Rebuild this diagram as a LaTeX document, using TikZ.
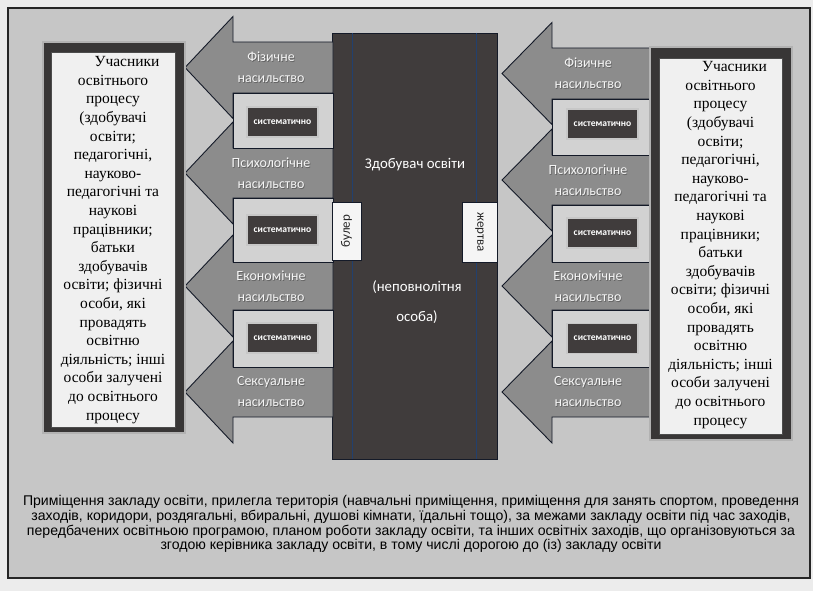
\documentclass[tikz,border=0pt]{standalone}
\usepackage{fontspec}
\setmainfont{Liberation Serif}
\newfontfamily\calfont{Carlito}
\newfontfamily\bodyfont{Liberation Sans}
\definecolor{pagebg}{HTML}{ECECEC}
\definecolor{framebg}{HTML}{C6C6C6}
\definecolor{arrowc}{HTML}{8C8C8C}
\definecolor{darkc}{HTML}{403C3C}
\definecolor{holderc}{HTML}{D2D2D2}
\definecolor{boxlight}{HTML}{F0F0F0}
\definecolor{boxframe}{HTML}{383636}
\definecolor{edgec}{HTML}{141A28}
\definecolor{bluec}{HTML}{22406E}
\begin{document}
\begin{tikzpicture}[x=1pt,y=-1pt,
  arrowshape/.style={fill=arrowc, draw=edgec, line width=0.9pt, line join=miter},
  holderbox/.style={fill=holderc, draw=edgec, line width=0.9pt},
  sysbox/.style={fill=darkc, draw=white!78!black, line width=1.3pt, text=white,
     font=\calfont\bfseries\fontsize{9.6}{10}\selectfont, minimum width=71pt, minimum height=30pt, inner sep=0pt},
  vlbl/.style={text=black!85, font=\calfont\fontsize{13}{15}\selectfont, inner sep=0pt},
  vbox/.style={fill=white!96!black, draw=edgec, line width=0.8pt},
  albl/.style={text=white!96!black, font=\calfont\fontsize{14}{21}\selectfont, align=center, inner sep=0pt},
  ashadow/.style={albl, text=black!75, opacity=0.55},
  ctext/.style={text=white, font=\calfont\fontsize{14.8}{16}\selectfont, inner sep=0pt},
  bigtext/.style={text=black, font=\fontsize{15.5}{18.6}\selectfont, align=center, inner sep=0pt},
  bottomtext/.style={text=black, font=\bodyfont\fontsize{14.1}{14.7}\selectfont, align=center, inner sep=0pt},
  outerbox/.style={fill=boxframe, draw=white!70!black, line width=1.2pt},
  innerbox/.style={fill=boxlight, draw=black!70, line width=0.6pt}
]
% background and frame
\path[use as bounding box, fill=pagebg] (0,0) rectangle (813,591);
\draw[fill=framebg, draw=black!85, line width=1.2pt] (8,8) rectangle (810,578);

% central block
\draw[fill=darkc, draw=edgec, line width=0.9pt] (332,33) rectangle (497,459);
\draw[bluec, line width=0.7pt] (352,33) -- (352,459);
\draw[bluec, line width=0.7pt] (476,33) -- (476,459);

% left arrows: body top / bottom
\foreach \t/\b in {42/93, 148/198, 262/310, 367/417}{
  \pgfmathsetmacro{\c}{(\t+\b)/2}
  \draw[arrowshape] (185,\c) -- (233,\c-51) -- (233,\t) -- (333,\t) -- (333,\b) -- (233,\b) -- (233,\c+51) -- cycle;
}
% right arrows
\foreach \t/\b in {48/99, 155/205, 262/310, 367/417}{
  \pgfmathsetmacro{\c}{(\t+\b)/2}
  \draw[arrowshape] (502,\c) -- (552,\c-51) -- (552,\t) -- (651,\t) -- (651,\b) -- (552,\b) -- (552,\c+51) -- cycle;
}

% holder boxes
\draw[holderbox] (233,93) rectangle (333,148);
\draw[holderbox] (233,198) rectangle (333,262);
\draw[holderbox] (233,310) rectangle (333,367);
\draw[holderbox] (552,99) rectangle (651,155);
\draw[holderbox] (552,205) rectangle (651,262);
\draw[holderbox] (552,310) rectangle (651,367);

% systematic boxes
\node[sysbox] (sl1) at (282.5,122) {систематично};
\node[sysbox] (sl2) at (282.5,230) {систематично};
\node[sysbox] (sl3) at (282.5,338) {систематично};
\node[sysbox] (sr1) at (602.5,124) {систематично};
\node[sysbox] (sr2) at (602.5,233) {систематично};
\node[sysbox] (sr3) at (602.5,338.5) {систематично};

% arrow labels (with soft shadow)
\foreach \n/\x/\y/\w in {al1/271/67.5/Фізичне, al2/271/173/Психологічне, al3/271/286/Економічне, al4/271/392/Сексуальне,
                         ar1/588/73.5/Фізичне, ar2/588/180/Психологічне, ar3/588/286/Економічне, ar4/588/392/Сексуальне}{
  \node[ashadow] (\n s) at (\x+0.8,\y+0.8) {\w\\насильство};
  \node[albl] (\n) at (\x,\y) {\w\\насильство};
}

% vertical labels
\draw[vbox] (332,202) rectangle (361,260);
\node[vlbl, rotate=90] (buler) at (346.5,231) {булер};
\draw[vbox] (462,202) rectangle (497,262);
\node[vlbl, rotate=-90] (zhertva) at (479.5,232) {жертва};

% central text
\node[ctext] (c1) at (415,165) {Здобувач освіти};
\node[ctext] (c2) at (417,287) {(неповнолітня};
\node[ctext] (c3) at (417,317) {особа)};

% text boxes
\draw[outerbox] (43,42) rectangle (185,433);
\draw[innerbox] (51,52) rectangle (175,427);
\draw[outerbox] (650,47) rectangle (792,440);
\draw[innerbox] (659,58) rectangle (782,434);

\node[bigtext] (lt) at (113,240) {\hspace*{28pt}Учасники\\освітнього\\процесу\\(здобувачі\\освіти;\\педагогічні,\\науково-\\педагогічні та\\наукові\\працівники;\\батьки\\здобувачів\\освіти; фізичні\\особи, які\\провадять\\освітню\\діяльність; інші\\особи залучені\\до освітнього\\процесу};
\node[bigtext] (rt) at (720.5,245) {\hspace*{28pt}Учасники\\освітнього\\процесу\\(здобувачі\\освіти;\\педагогічні,\\науково-\\педагогічні та\\наукові\\працівники;\\батьки\\здобувачів\\освіти; фізичні\\особи, які\\провадять\\освітню\\діяльність; інші\\особи залучені\\до освітнього\\процесу};

% bottom text
\node[bottomtext] (bt) at (411,524) {Приміщення закладу освіти, прилегла територія (навчальні приміщення, приміщення для занять спортом, проведення\\заходів, коридори, роздягальні, вбиральні, душові кімнати, їдальні тощо), за межами закладу освіти під час заходів,\\передбачених освітньою програмою, планом роботи закладу освіти, та інших освітніх заходів, що організовуються за\\згодою керівника закладу освіти, в тому числі дорогою до (із) закладу освіти};
\end{tikzpicture}
\end{document}
